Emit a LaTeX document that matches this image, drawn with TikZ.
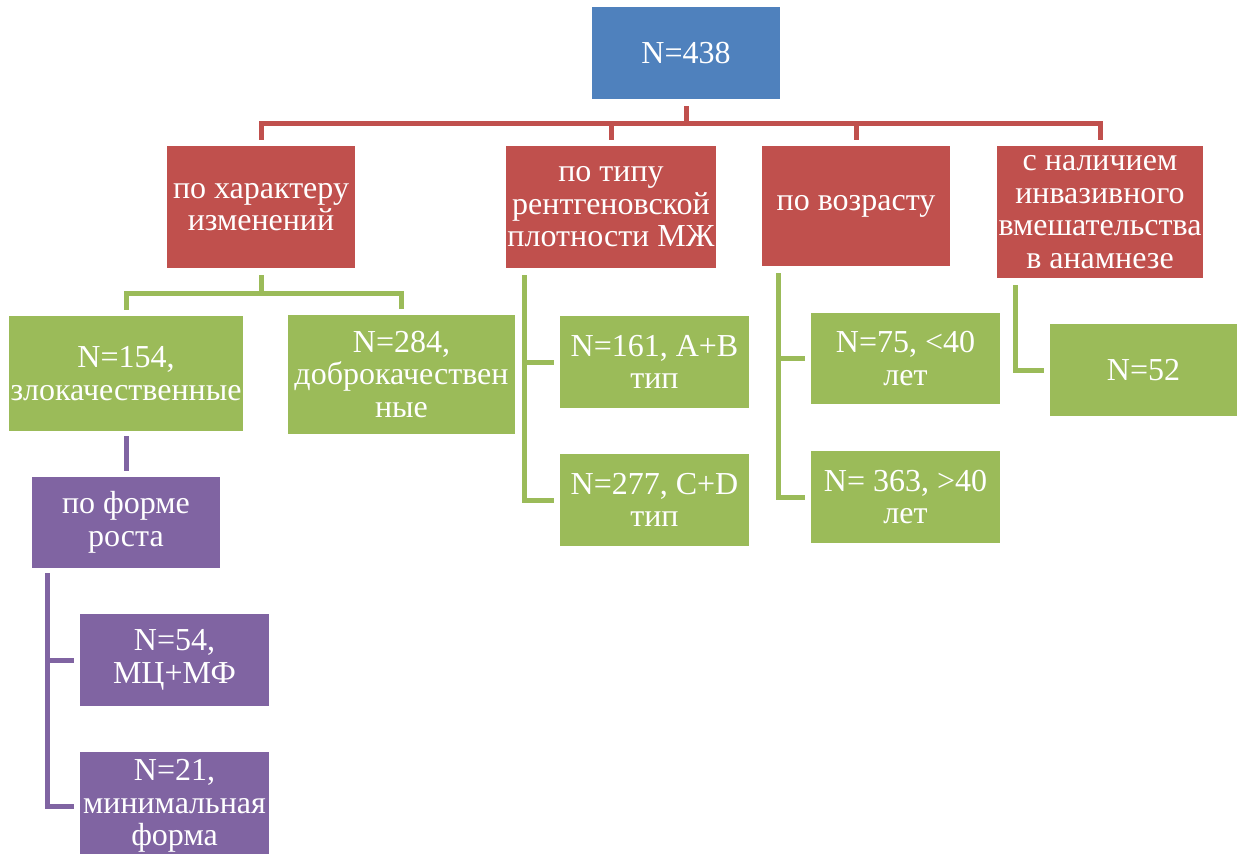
\documentclass[tikz,border=0pt]{standalone}
\usepackage{fontspec}
\setmainfont{Liberation Serif}
\usetikzlibrary{positioning}

\definecolor{blueobj}{HTML}{4F81BD}
\definecolor{redobj}{HTML}{C0504D}
\definecolor{greenobj}{HTML}{9BBB59}
\definecolor{violetobj}{HTML}{8064A2}

\begin{document}
\begin{tikzpicture}[x=1pt, y=-1pt]
	\tikzstyle{obj} = [rectangle, inner sep=0pt, align=center, text=white, font=\fontsize{32}{32.5}\selectfont]
	\tikzstyle{topbox} = [obj, fill=blueobj]
	\tikzstyle{redbox} = [obj, fill=redobj]
	\tikzstyle{greenbox} = [obj, fill=greenobj, minimum width=189pt, minimum height=92pt]
	\tikzstyle{violetbox} = [obj, fill=violetobj, minimum width=189pt, minimum height=92pt]
	\tikzstyle{redline} = [draw=redobj, line width=5pt, shorten <=7pt, shorten >=6pt]
	\tikzstyle{greenline} = [draw=greenobj, line width=5pt, shorten <=7pt, shorten >=6pt]
	\tikzstyle{violetline} = [draw=violetobj, line width=5pt, shorten <=5pt, shorten >=6pt]
	
	\useasboundingbox (0,0) rectangle (1237,854);
	\clip (0,0) rectangle (1237,854);
	
	\node[topbox, minimum width=188pt, minimum height=92pt] (root) at (686,53) {N=438};
	
	\node[redbox, minimum width=188pt, minimum height=122pt] (xarakter) at (261,207) {по характеру\\изменений};
	\node[redbox, minimum width=210pt, minimum height=122pt] (plotnost) at (611,207) {по типу\\рентгеновской\\плотности МЖ};
	\node[redbox, minimum width=188pt, minimum height=120pt] (vozrast) at (856,206) {по возрасту};
	\node[redbox, minimum width=206pt, minimum height=132pt] (invaziv) at (1100,212) {с наличием\\инвазивного\\вмешательства\\в анамнезе};
	
	\draw[redline] (root.south) -- ++(0,24) -| (xarakter.north);
	\draw[redline] (root.south) -- ++(0,24) -| (plotnost.north);
	\draw[redline] (root.south) -- ++(0,24) -| (vozrast.north);
	\draw[redline] (root.south) -- ++(0,24) -| (invaziv.north);
	
	\node[greenbox, minimum width=234pt, minimum height=115pt] (zlo) at (126,373.5) {N=154,\\злокачественные};
	\node[greenbox, minimum width=227pt, minimum height=119pt] (dobro) at (401.5,374.5) {N=284,\\доброкачествен\\ные};
	\node[greenbox] (ab) at (654.5,362) {N=161, A+B\\тип};
	\node[greenbox] (cd) at (654.5,500) {N=277, C+D\\тип};
	\node[greenbox, minimum height=91pt] (do40) at (905.5,358.5) {N=75, <40\\лет};
	\node[greenbox] (posle40) at (905.5,497) {N= 363, >40\\лет};
	\node[greenbox, minimum width=187pt] (n52) at (1143.5,370) {N=52};
	
	\draw[greenline] (xarakter.south) -- ++(0,25) -| (zlo.north);
	\draw[greenline] (xarakter.south) -- ++(0,25) -| (dobro.north);
	\draw[greenline] ([xshift=19pt]plotnost.south west) |- (ab.west);
	\draw[greenline] ([xshift=19pt]plotnost.south west) |- (cd.west);
	\draw[greenline] ([xshift=17pt]vozrast.south west) |- (do40.west);
	\draw[greenline] ([xshift=17pt]vozrast.south west) |- (posle40.west);
	\draw[greenline] ([xshift=19pt]invaziv.south west) |- (n52.west);
	
	\node[violetbox, minimum width=188pt, minimum height=91pt] (forma) at (126,522.5) {по форме\\роста};
	\node[violetbox] (mcmf) at (174.5,660) {N=54,\\МЦ+МФ};
	\node[violetbox, minimum height=108pt] (minimal) at (174.5,806) {N=21,\\минимальная\\форма};
	
	\draw[violetline] (zlo.south) -- (forma.north);
	\draw[violetline] ([xshift=16pt]forma.south west) |- (mcmf.west);
	\draw[violetline] ([xshift=16pt]forma.south west) |- (minimal.west);
\end{tikzpicture}
\end{document}
